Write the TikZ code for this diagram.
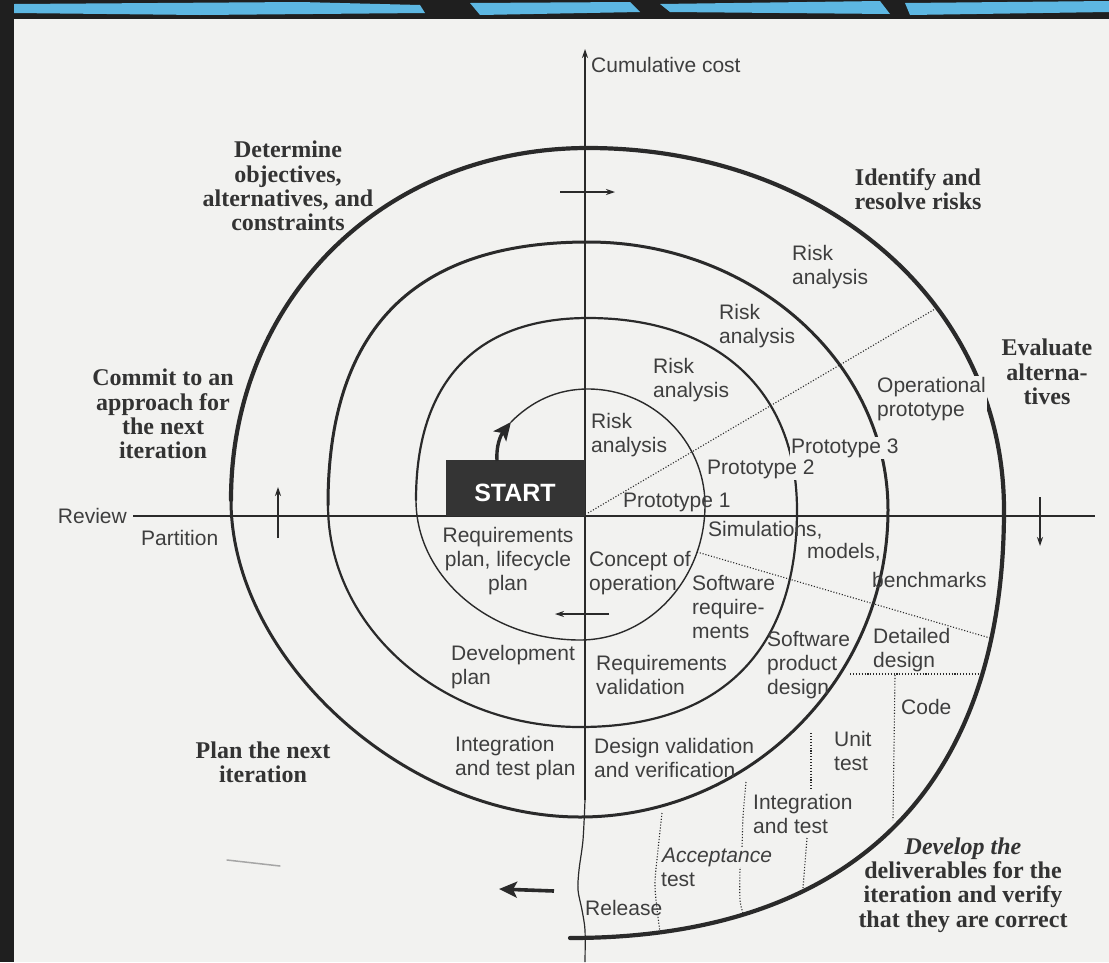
\documentclass[tikz,border=0pt]{standalone}
\usepackage{fontspec}
\setmainfont{Liberation Serif}
\setsansfont{Liberation Sans}
\usetikzlibrary{arrows.meta}
\definecolor{paper}{HTML}{F2F2F0}
\definecolor{ink}{HTML}{2A2A2A}
\definecolor{txt}{HTML}{3E3E3E}
\definecolor{hdtxt}{HTML}{333333}
\definecolor{scanblue}{HTML}{5DB7E2}
\definecolor{startfill}{HTML}{343434}
\begin{document}
\begin{tikzpicture}[x=1pt,y=-1pt,
  lbl/.style={font=\sffamily\fontsize{21}{24}\selectfont, text=txt, inner sep=0pt, align=left, anchor=west},
  hd/.style={font=\rmfamily\bfseries\fontsize{24}{24.3}\selectfont, text=hdtxt, inner sep=0pt, align=center},
  cover/.style={fill=paper, inner sep=1pt},
  sp/.style={draw=ink, line cap=round, line join=round},
  dots/.style={draw=ink, line width=1.1pt, dash pattern=on 1.1pt off 1.8pt},
  axisline/.style={draw=ink, line width=1.2pt},
  thinarr/.style={draw=ink, line width=1.2pt, -{Stealth[length=9pt,width=6pt]}},
  boldarr/.style={draw=ink, line width=3.6pt, -{Stealth[length=18pt,width=16pt,inset=4pt]}},
]
\useasboundingbox (0,0) rectangle (1109,962);
% paper and scan border
\fill[paper] (0,0) rectangle (1109,962);
\fill[black!88] (0,0) rectangle (1109,19);
\fill[scanblue] (14,4) -- (300,2) -- (420,5) -- (425,13) -- (200,15) -- (14,13) -- cycle;
\fill[scanblue] (470,3) -- (630,2) -- (640,12) -- (480,15) -- cycle;
\fill[scanblue] (660,4) -- (880,1) -- (890,14) -- (670,12) -- cycle;
\fill[scanblue] (905,3) -- (1109,1) -- (1109,12) -- (910,15) -- cycle;
\fill[black!88] (0,0) rectangle (14,962);

% axes
\coordinate (ctop) at (585,49);
\coordinate (cbend) at (585,800);
\coordinate (rleft) at (133,516);
\coordinate (rright) at (1095,516);
\draw[axisline, -{Stealth[length=9pt,width=6pt]}] (cbend) -- (ctop);
\draw[axisline] plot[smooth] coordinates {(585,800) (583,840) (579,870) (578,890) (582,910) (585,930) (585,962)};
\draw[axisline] (rleft) -- (rright);

% spiral: four turns, thicker outwards
\coordinate (s0) at (511,422);
\coordinate (l0) at (416,500);
\coordinate (l1) at (328,505);
\coordinate (l2) at (231,500);
\coordinate (s3) at (570,938);
\draw[sp, line width=1.4pt] (s0) .. controls (531,402) and (556,389) .. (588,389)
  .. controls (652,389) and (705,441) .. (705,505)
  .. controls (705,579) and (649,640) .. (580,640)
  .. controls (490,640) and (416,577) .. (l0);
\draw[sp, line width=2.2pt] (l0) .. controls (416,382) and (476,318) .. (588,318)
  .. controls (718,318) and (797,391) .. (797,510)
  .. controls (797,651) and (721,727) .. (580,727)
  .. controls (441,727) and (328,627) .. (l1);
\draw[sp, line width=3pt] (l1) .. controls (328,329) and (414,242) .. (588,242)
  .. controls (753,242) and (888,363) .. (888,510)
  .. controls (888,679) and (749,817) .. (580,817)
  .. controls (405,817) and (231,659) .. (l2);
\draw[sp, line width=4.2pt] (l2) .. controls (231,299) and (384,148) .. (588,148)
  .. controls (825,148) and (1004,304) .. (1004,510)
  .. controls (1004,788) and (852,938) .. (s3);

% dotted dividers
\coordinate (d1a) at (588,513); \coordinate (d1b) at (935,309);
\coordinate (d2a) at (697,552); \coordinate (d2b) at (990,638);
\coordinate (d3a) at (850,674); \coordinate (d3b) at (982,674);
\coordinate (d4a) at (895,675); \coordinate (d4b) at (893,820);
\coordinate (d5a) at (811,733); \coordinate (d5b) at (811,790);
\coordinate (d6a) at (807,838); \coordinate (d6b) at (803,888);
\draw[dots] (d1a) -- (d1b);
\draw[dots] (d2a) -- (d2b);
\draw[dots] (d3a) -- (d3b);
\draw[dots] (d4a) -- (d4b);
\draw[dots] (d5a) -- (d5b);
\draw[dots] (d6a) -- (d6b);
\draw[dots] plot[smooth] coordinates {(746,782) (743,817) (742,847) (740,870) (740,900) (743,913)};
\draw[dots] plot[smooth] coordinates {(662,813) (658,850) (655,887) (660,932)};

% small direction arrows
\coordinate (ua) at (278,538); \coordinate (ub) at (278,487);
\coordinate (ra) at (560,192); \coordinate (rb) at (615,192);
\coordinate (da) at (1040,497); \coordinate (db) at (1040,546);
\coordinate (la) at (609,614); \coordinate (lb) at (555,614);
\draw[thinarr] (ua) -- (ub);
\draw[thinarr] (ra) -- (rb);
\draw[thinarr] (da) -- (db);
\draw[thinarr] (la) -- (lb);
\coordinate (ba) at (554,891); \coordinate (bb) at (499,889);
\draw[boldarr] (ba) -- (bb);
\draw[black!35, line width=1.5pt, line cap=round] (227,860) -- (280,866);

% START
\node[fill=startfill, minimum width=139pt, minimum height=56pt, inner sep=0pt, anchor=north west] (start) at (446,460) {};
\node[font=\sffamily\bfseries\fontsize{25}{25}\selectfont, text=white, inner sep=0pt] (starttxt) at (515,493) {START};
\coordinate (sa) at (497,461);
\draw[boldarr, line width=3.4pt] (sa) .. controls (496,447) and (500,436) .. (s0);

% sans labels
\node[lbl] (cum) at (591,65) {Cumulative cost};
\node[lbl, anchor=east] (rev) at (127,516) {Review};
\node[lbl] (part) at (141,538) {Partition};
\node[lbl, align=center, anchor=center] (reqp) at (508,561) {Requirements\\plan, lifecycle\\plan};
\node[lbl] (conc) at (589,573) {Concept of\\operation};
\node[lbl] (risk1) at (591,435) {Risk\\analysis};
\node[lbl] (risk2) at (653,380) {Risk\\analysis};
\node[lbl] (risk3) at (719,326) {Risk\\analysis};
\node[lbl] (risk4) at (792,267) {Risk\\analysis};
\node[lbl] (proto1) at (623,502) {Prototype 1};
\node[lbl, cover] (proto2) at (706,469) {Prototype 2};
\node[lbl, cover] (proto3) at (790,448) {Prototype 3};
\node[lbl, cover] (oper) at (876,399) {Operational\\prototype};
\node[lbl] (sim) at (708,530) {Simulations,};
\node[lbl] (models) at (807,552) {models,};
\node[lbl] (bench) at (872,580) {benchmarks};
\node[lbl] (swreq) at (692,607) {Software\\require-\\ments};
\node[lbl] (swpd) at (767,665) {Software\\product\\design};
\node[lbl] (detail) at (873,650) {Detailed\\design};
\node[lbl] (code) at (901,707) {Code};
\node[lbl] (unit) at (834,751) {Unit\\test};
\node[lbl] (integ) at (753,814) {Integration\\and test};
\node[lbl, cover] (accept) at (661,857) {\itshape Acceptance};
\node[lbl] (accept2) at (661,880) {test};
\node[lbl] (release) at (585,908) {Release};
\node[lbl] (devplan) at (451,667) {Development\\plan};
\node[lbl] (reqval) at (596,675) {Requirements\\validation};
\node[lbl] (itp) at (455,758) {Integration\\and test plan};
\node[lbl] (dvv) at (594,758) {Design validation\\and verification};

% bold serif headings
\node[hd] (det) at (288,186) {Determine\\objectives,\\alternatives, and\\constraints};
\node[hd] (ident) at (918,189) {Identify and\\resolve risks};
\node[hd] (eval) at (1047,372) {Evaluate\\alterna-\\tives};
\node[hd] (commit) at (163,414) {Commit to an\\approach for\\the next\\iteration};
\node[hd] (plannext) at (263,762) {Plan the next\\iteration};
\node[hd] (develop) at (963,885) {\itshape Develop the\\deliverables for the\\iteration and verify\\that they are correct};
\end{tikzpicture}
\end{document}
